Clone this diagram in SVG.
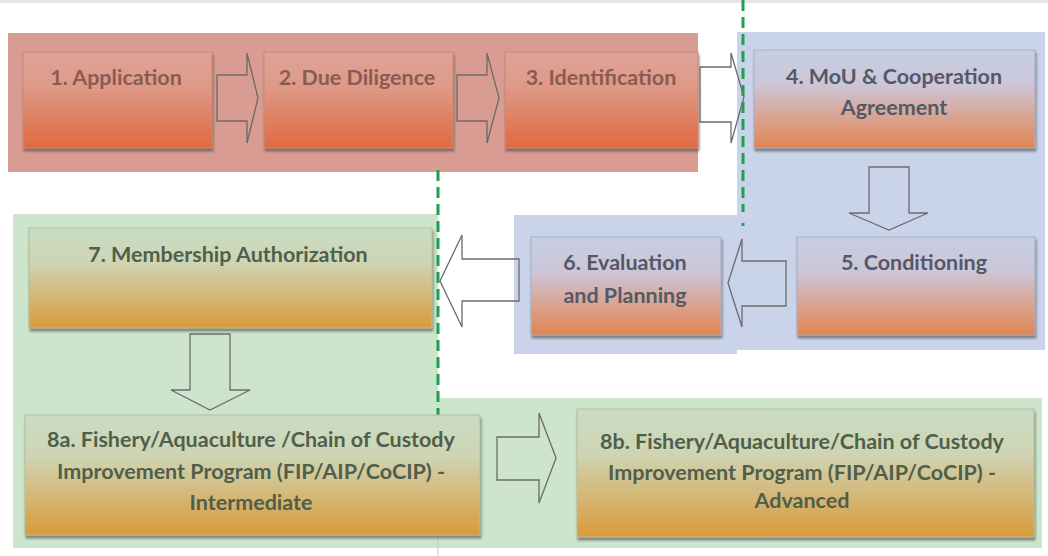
<svg xmlns="http://www.w3.org/2000/svg" width="1048" height="556" viewBox="0 0 1048 556">
<defs>
<linearGradient id="gRed" x1="0" y1="0" x2="0" y2="1">
<stop offset="0" stop-color="#dfa396"/><stop offset="0.35" stop-color="#de9a88"/><stop offset="1" stop-color="#e06a40"/>
</linearGradient>
<linearGradient id="gBlue" x1="0" y1="0" x2="0" y2="1">
<stop offset="0" stop-color="#c6cee3"/><stop offset="0.35" stop-color="#ccc6d8"/><stop offset="1" stop-color="#e3844f"/>
</linearGradient>
<linearGradient id="gGreen" x1="0" y1="0" x2="0" y2="1">
<stop offset="0" stop-color="#c9ddc3"/><stop offset="0.35" stop-color="#cfd4b3"/><stop offset="1" stop-color="#d99b3a"/>
</linearGradient>
<filter id="sh" x="-5%" y="-10%" width="110%" height="130%">
<feDropShadow dx="1" dy="3" stdDeviation="1.2" flood-color="#4a4a4a" flood-opacity="0.6"/>
</filter>
</defs>
<style>
.node rect{filter:url(#sh);stroke-width:1}
.r rect{fill:url(#gRed);stroke:#c98a7a}
.b rect{fill:url(#gBlue);stroke:#a8afc4}
.g rect{fill:url(#gGreen);stroke:#b4bf98}
text{font-family:Lato,"Liberation Sans",sans-serif;font-weight:bold;font-size:21.5px;text-anchor:middle}
.r text{fill:#8a5b52}
.b text{fill:#555866}
.g text{fill:#4f5f4c}
.arr polygon{fill:none;stroke:#6b6b6b;stroke-width:1.3;stroke-linejoin:miter}
.dash{stroke:#1fa04c;stroke-width:3;stroke-dasharray:11 6;fill:none}
</style>
<rect x="0" y="0" width="1048" height="556" fill="#ffffff"/>
<rect x="0" y="0" width="1048" height="3" fill="#e6e6e6"/>
<g id="regions">
<rect x="8" y="33" width="690" height="139" fill="#d99c92"/>
<rect x="737" y="32" width="308" height="318" fill="#c9d4ea"/>
<rect x="514" y="215" width="223" height="139" fill="#c9d4ea"/>
<rect x="13" y="214" width="425" height="334" fill="#cde5cd"/>
<rect x="438" y="398" width="604" height="150" fill="#cde5cd"/>
</g>
<g id="dividers">
<path class="dash" d="M743,0 V212"/>
<rect x="741.5" y="223" width="3" height="3" fill="#1fa04c"/>
<path class="dash" d="M438,170 V455"/>
<path d="M438,455 V556" stroke="#bcccbc" stroke-width="1"/>
</g>
<g id="n1" class="node r"><rect x="23" y="52" width="189" height="96"/><text x="116" y="85">1. Application</text></g>
<g id="n2" class="node r"><rect x="264" y="52" width="189" height="96"/><text x="357" y="85">2. Due Diligence</text></g>
<g id="n3" class="node r"><rect x="505" y="52" width="193" height="96"/><text x="601" y="85">3. Identification</text></g>
<g id="n4" class="node b"><rect x="754" y="50" width="281" height="98"/><text x="894" y="84">4. MoU &amp; Cooperation</text><text x="894" y="115">Agreement</text></g>
<g id="n5" class="node b"><rect x="797" y="237" width="238" height="98"/><text x="914" y="270">5. Conditioning</text></g>
<g id="n6" class="node b"><rect x="531" y="237" width="190" height="98"/><text x="625" y="270">6. Evaluation</text><text x="625" y="303">and Planning</text></g>
<g id="n7" class="node g"><rect x="29" y="228" width="403" height="100"/><text x="228" y="262">7. Membership Authorization</text></g>
<g id="n8a" class="node g"><rect x="25" y="415" width="455" height="120"/><text x="251" y="447">8a. Fishery/Aquaculture /Chain of Custody</text><text x="251" y="479">Improvement Program (FIP/AIP/CoCIP) -</text><text x="251" y="510">Intermediate</text></g>
<g id="n8b" class="node g"><rect x="577" y="409" width="457" height="128"/><text x="802" y="449">8b. Fishery/Aquaculture/Chain of Custody</text><text x="802" y="480">Improvement Program (FIP/AIP/CoCIP) -</text><text x="802" y="508">Advanced</text></g>
<g id="connectors" class="arr">
<polygon points="217,75 247,75 247,53 258,98 247,143 247,121 217,121"/>
<polygon points="457,75 487,75 487,53 499,98 487,143 487,121 457,121"/>
<polygon points="700,67 731,67 731,53 744,97 731,143 731,122 700,122"/>
<polygon points="869,167 909,167 909,213 928,213 889,230 849,213 869,213"/>
<polygon points="786,261 786,306 742,306 742,327 728,283 742,239 742,261"/>
<polygon points="519,259 519,301 462,301 462,327 440,281 462,235 462,259"/>
<polygon points="190,334 230,334 230,390 250,390 210,410 171,390 190,390"/>
<polygon points="497,437 539,437 539,413 556,458 539,503 539,480 497,480"/>
</g>
</svg>
